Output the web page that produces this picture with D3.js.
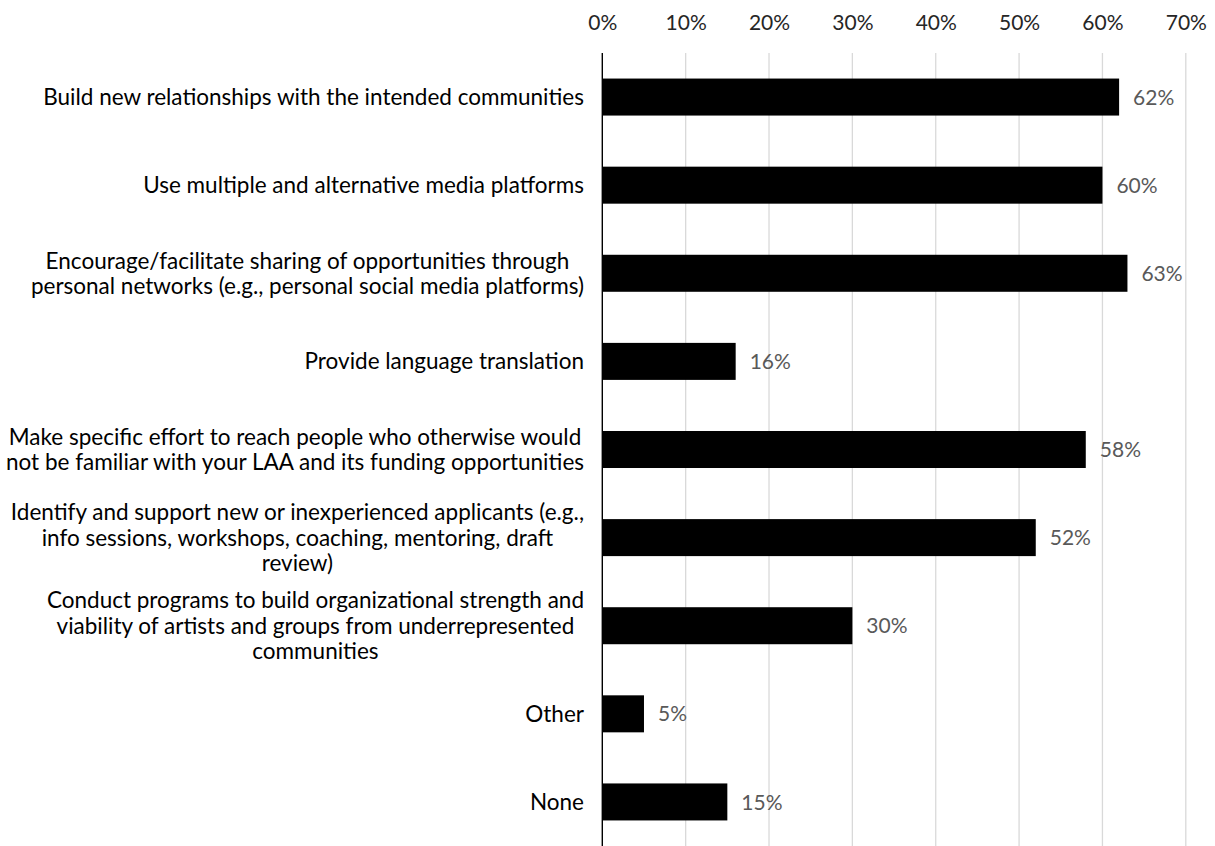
<!DOCTYPE html>
<html>
<head>
<meta charset="utf-8">
<script src="https://cdn.jsdelivr.net/npm/d3@7"></script>
<style>
  html, body { margin: 0; padding: 0; background: #fff; }
  svg { display: block; }
  text { font-family: Lato, "Open Sans", sans-serif; }
</style>
</head>
<body>
<svg id="chart" width="1215" height="846"></svg>
<script>
// Outreach practices (lines of each label separated by "\n")
const categories = [
  "Build new relationships with the intended communities",
  "Use multiple and alternative media platforms",
  "Encourage/facilitate sharing of opportunities through\npersonal networks (e.g., personal social media platforms)",
  "Provide language translation",
  "Make specific effort to reach people who otherwise would\nnot be familiar with your LAA and its funding opportunities",
  "Identify and support new or inexperienced applicants (e.g.,\ninfo sessions, workshops, coaching, mentoring, draft\nreview)",
  "Conduct programs to build organizational strength and\nviability of artists and groups from underrepresented\ncommunities",
  "Other",
  "None"
];
// Share of respondents, percent
const values = [62, 60, 63, 16, 58, 52, 30, 5, 15];
// Axis ticks, percent
const ticks = [0, 10, 20, 30, 40, 50, 60, 70];

const svg = d3.select("#chart");
const fontSize = 21;
const catFontSize = 22.5;
const lineH = 25.5;
const labelRight = 584;

const x = d3.scaleLinear().domain([0, 70]).range([602.3, 1185.8]);
const y = d3.scaleBand()
  .domain(d3.range(categories.length))
  .range([53, 846])
  .paddingInner(0.58)
  .paddingOuter(0.29);

// Vertical gridlines
svg.append("g")
  .selectAll("line")
  .data(ticks.filter(t => t > 0))
  .join("line")
  .attr("x1", d => x(d)).attr("x2", d => x(d))
  .attr("y1", 53).attr("y2", 846)
  .attr("stroke", "#d9d9d9")
  .attr("stroke-width", 1.3);

// Top axis labels
const axis = d3.axisTop(x)
  .tickValues(ticks)
  .tickFormat(d => d + "%")
  .tickSize(0)
  .tickPadding(0);
const gAxis = svg.append("g")
  .attr("transform", "translate(0,30)")
  .call(axis);
gAxis.select(".domain").remove();
gAxis.selectAll("text")
  .attr("font-family", "Lato, 'Open Sans', sans-serif")
  .attr("font-size", fontSize)
  .attr("fill", "#262626")
  .attr("dy", 0);

// Bars
svg.append("g")
  .selectAll("rect")
  .data(values)
  .join("rect")
  .attr("x", x(0))
  .attr("y", (d, i) => y(i))
  .attr("width", d => x(d) - x(0))
  .attr("height", y.bandwidth())
  .attr("fill", "#000");

// Category axis line
svg.append("line")
  .attr("x1", x(0)).attr("x2", x(0))
  .attr("y1", 53).attr("y2", 846)
  .attr("stroke", "#000")
  .attr("stroke-width", 1.4);

// Value labels
svg.append("g")
  .selectAll("text")
  .data(values)
  .join("text")
  .attr("x", d => x(d) + 14)
  .attr("y", (d, i) => y(i) + y.bandwidth() / 2)
  .attr("dy", "0.36em")
  .attr("font-size", fontSize)
  .attr("fill", "#595959")
  .text(d => d + "%");

// Category labels: centered lines, block right-aligned to the axis
const labels = svg.append("g")
  .selectAll("text")
  .data(categories)
  .join("text")
  .attr("font-size", catFontSize)
  .attr("fill", "#000")
  .attr("text-anchor", "middle");

labels.each(function(d, i) {
  const t = d3.select(this);
  const lines = d.split("\n");
  const cy = y(i) + y.bandwidth() / 2;
  const top = cy - (lines.length - 1) * lineH / 2;
  lines.forEach((ln, k) => {
    t.append("tspan").attr("y", top + k * lineH).attr("dy", "0.36em").text(ln);
  });
  let maxW = 0;
  t.selectAll("tspan").each(function() {
    maxW = Math.max(maxW, this.getComputedTextLength());
  });
  t.selectAll("tspan").attr("x", labelRight - maxW / 2);
});
</script>
</body>
</html>
